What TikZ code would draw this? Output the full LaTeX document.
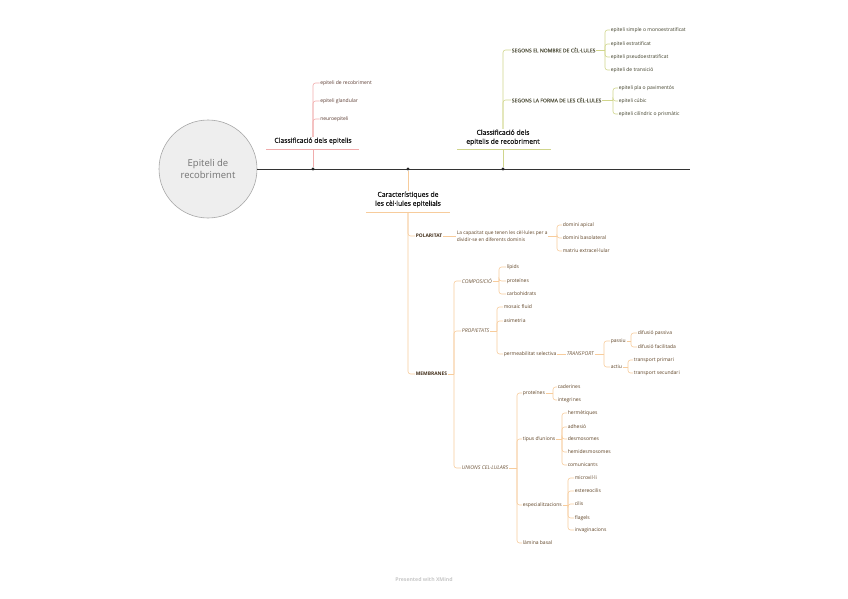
\documentclass[tikz,border=0pt]{standalone}
\usepackage{fontspec}
\setmainfont{Open Sans}
\newfontfamily\semib[FakeBold=1.0]{Open Sans}
\newfontfamily\semic[FakeBold=0.4]{Open Sans}
\definecolor{pinkl}{HTML}{F0ACAC}
\definecolor{greenl}{HTML}{D0D58C}
\definecolor{orangel}{HTML}{F7CC9C}
\definecolor{pinkt}{HTML}{5A3A30}
\definecolor{greent}{HTML}{3E3E28}
\definecolor{oranget}{HTML}{5E4224}
\definecolor{circfill}{HTML}{EEEEEE}
\newcommand\fan[4]{%
  \coordinate (tmpT) at (#3,0);
  \draw[#1] (#2.east) -- (tmpT |- #2.east);
  \foreach \c in {#4} {\draw[#1, rounded corners=2.5pt] (tmpT |- #2.east) |- (\c.west);}
}
\begin{document}
\begin{tikzpicture}[x=1pt,y=-1pt,
  leaf/.style={font=\fontsize{5}{5.8}\selectfont, inner sep=0.6pt, anchor=west},
  pleaf/.style={leaf, text=pinkt},
  gleaf/.style={leaf, text=greent},
  oleaf/.style={leaf, text=oranget},
  osub/.style={leaf, text=oranget!90, font=\fontsize{5.2}{6}\selectfont\itshape},
  obold/.style={leaf, text=oranget!70!black, font=\fontsize{4.9}{6}\selectfont\bfseries},
  gcap/.style={leaf, text=greent!85, font=\semic\fontsize{5.1}{6}\selectfont},
  mainlab/.style={font=\semib\fontsize{6.8}{9}\selectfont, text=black!90, align=center, inner sep=0.5pt},
  pline/.style={draw=pinkl, line width=0.6pt},
  gline/.style={draw=greenl, line width=0.6pt},
  oline/.style={draw=orangel, line width=0.6pt},
  uline/.style={line width=1pt},
  dot/.style={circle, fill=black!85, inner sep=0pt, minimum size=3.2pt}]
\useasboundingbox (0,0) rectangle (848,599);

% central topic
\node[circle, draw=black!35, fill=circfill, line width=0.6pt, minimum size=98pt, inner sep=0pt,
      font=\fontsize{9.5}{12}\selectfont, text=black!55, align=center] (root) at (208,169) {Epiteli de\\recobriment};
\coordinate (lineend) at (690,169);
\draw[black!80, line width=0.6pt] (root.east) -- (lineend);
\node[dot] (d1) at (313,169) {};
\node[dot] (d2) at (408,169) {};
\node[dot] (d3) at (503,169) {};

% ---------- pink branch ----------
\node[mainlab] (L1) at (313,141) {Classificació dels epitelis};
\coordinate (u1a) at (266,149.5); \coordinate (u1b) at (359,149.5);
\draw[pline, uline] (u1a) -- (u1b);
\draw[pline] (d1) -- (d1 |- u1a);
\node[pleaf] (p1) at (319.5,83) {epiteli de recobriment};
\node[pleaf] (p2) at (319.5,101) {epiteli glandular};
\node[pleaf] (p3) at (319.5,119) {neuroepiteli};
\foreach \c in {p1,p2,p3} {\draw[pline, rounded corners=2.5pt] (L1.north) |- (\c.west);}

% ---------- green branch ----------
\node[mainlab] (L2) at (503,137.5) {Classificació dels\\epitelis de recobriment};
\coordinate (u2a) at (457,149.5); \coordinate (u2b) at (551,149.5);
\draw[gline, uline] (u2a) -- (u2b);
\draw[gline] (d3) -- (d3 |- u2a);
\node[gcap] (G1) at (511,50) {SEGONS EL NOMBRE DE CÈL·LULES};
\node[gcap] (G2) at (511,100) {SEGONS LA FORMA DE LES CÈL·LULES};
\foreach \c in {G1,G2} {\draw[gline, rounded corners=2.5pt] (L2.north) |- (\c.west);}
\node[gleaf] (g11) at (610,30) {epiteli simple o monoestratificat};
\node[gleaf] (g12) at (610,44) {epiteli estratificat};
\node[gleaf] (g13) at (610,57) {epiteli pseudoestratificat};
\node[gleaf] (g14) at (610,70) {epiteli de transició};
\fan{gline}{G1}{605}{g11,g12,g13,g14}
\node[gleaf] (g21) at (618,88) {epiteli pla o pavimentós};
\node[gleaf] (g22) at (618,101) {epiteli cúbic};
\node[gleaf] (g23) at (618,114) {epiteli cilíndric o prismàtic};
\fan{gline}{G2}{613}{g21,g22,g23}

% ---------- orange branch ----------
\node[mainlab] (L3) at (408,199.5) {Característiques de\\les cèl·lules epitelials};
\coordinate (u3a) at (366,212); \coordinate (u3b) at (450,212);
\draw[oline, uline] (u3a) -- (u3b);
\draw[oline] (d2) -- (L3.north);
\coordinate (u3c) at (408,212);
\node[obold] (POL) at (415,236) {POLARITAT};
\node[obold] (MEM) at (415,374) {MEMBRANES};
\foreach \c in {POL,MEM} {\draw[oline, rounded corners=2.5pt] (u3c) |- (\c.west);}

\node[oleaf, align=left, font=\fontsize{4.85}{7}\selectfont] (DESC) at (456,236) {La capacitat que tenen les cèl·lules per a\\dividir-se en diferents dominis};
\draw[oline] (POL.east) -- (DESC.west);
\node[oleaf] (o1) at (562,225) {domini apical};
\node[oleaf] (o2) at (562,238) {domini basolateral};
\node[oleaf] (o3) at (562,251) {matriu extracel·lular};
\fan{oline}{DESC}{557}{o1,o2,o3}

\node[osub] (COMP) at (461,281) {COMPOSICIÓ};
\node[osub] (PROP) at (461,331) {PROPIETATS};
\node[osub] (UNI) at (461,468) {UNIONS CEL·LULARS};
\fan{oline}{MEM}{454}{COMP,PROP,UNI}

\node[oleaf] (c1) at (506,267) {lípids};
\node[oleaf] (c2) at (506,281) {proteïnes};
\node[oleaf] (c3) at (506,294) {carbohidrats};
\fan{oline}{COMP}{499}{c1,c2,c3}

\node[oleaf] (q1) at (503,307) {mosaic fluid};
\node[oleaf] (q2) at (503,321) {asimetria};
\node[oleaf] (q3) at (503,354) {permeabilitat selectiva};
\fan{oline}{PROP}{497}{q1,q2,q3}

\node[osub] (TR) at (566,354) {TRANSPORT};
\draw[oline] (q3.east) -- (TR.west);
\node[oleaf] (t1) at (610,341) {passiu};
\node[oleaf] (t2) at (610,367) {actiu};
\fan{oline}{TR}{604}{t1,t2}
\node[oleaf] (t11) at (637,333) {difusió passiva};
\node[oleaf] (t12) at (637,347) {difusió facilitada};
\fan{oline}{t1}{631}{t11,t12}
\node[oleaf] (t21) at (633,360) {transport primari};
\node[oleaf] (t22) at (633,373) {transport secundari};
\fan{oline}{t2}{628}{t21,t22}

\node[oleaf] (u1) at (522,393) {proteïnes};
\node[oleaf] (u2) at (522,439) {tipus d'unions};
\node[oleaf] (u3) at (522,505) {especialitzacions};
\node[oleaf] (u4) at (522,543) {làmina basal};
\fan{oline}{UNI}{517}{u1,u2,u3,u4}

\node[oleaf] (u11) at (557,387) {caderines};
\node[oleaf] (u12) at (557,400) {integrines};
\fan{oline}{u1}{553}{u11,u12}

\node[oleaf] (u21) at (567,413) {hermètiques};
\node[oleaf] (u22) at (567,427) {adhesió};
\node[oleaf] (u23) at (567,439) {desmosomes};
\node[oleaf] (u24) at (567,452) {hemidesmosomes};
\node[oleaf] (u25) at (567,465) {comunicants};
\fan{oline}{u2}{562}{u21,u22,u23,u24,u25}

\node[oleaf] (u31) at (574,478) {microvil·li};
\node[oleaf] (u32) at (574,491) {estereocilis};
\node[oleaf] (u33) at (574,504) {cilis};
\node[oleaf] (u34) at (574,518) {flagels};
\node[oleaf] (u35) at (574,530) {invaginacions};
\fan{oline}{u3}{568}{u31,u32,u33,u34,u35}

% footer
\node[font=\fontsize{5.2}{6}\selectfont\bfseries, text=black!22] (foot) at (424,580) {Presented with XMind};
\end{tikzpicture}
\end{document}
